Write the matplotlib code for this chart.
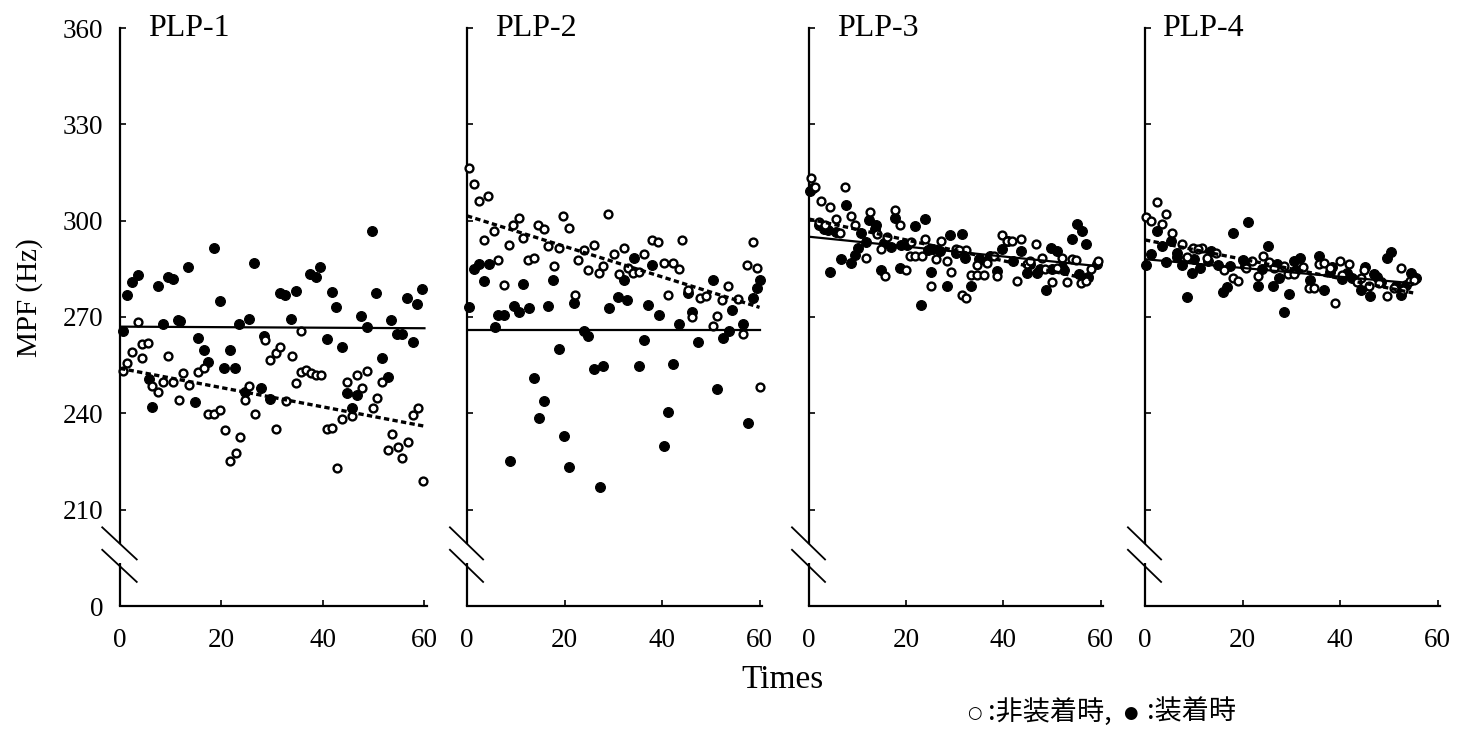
import matplotlib.pyplot as plt

plt.rcParams['font.family'] = ['Liberation Serif', 'DejaVu Serif']

titles = ['PLP-1', 'PLP-2', 'PLP-3', 'PLP-4']

# PLP-1  (off = open circles, on = filled circles)
p1_off_x = [0.5, 1.3, 2.4, 3.6, 4.4, 4.4, 5.5, 6.4, 7.5, 8.5, 9.4, 10.5, 11.7, 12.5, 13.5, 15.4, 16.6,
            17.4, 18.5, 19.7, 20.6, 21.7, 22.8, 23.6, 24.7, 25.4, 26.6, 28.5, 29.6, 30.8, 31.5, 30.8,
            32.7, 33.8, 34.6, 35.7, 35.7, 36.6, 37.6, 38.7, 39.6, 40.7, 41.8, 42.7, 43.7, 44.8, 45.7,
            46.7, 47.6, 48.7, 49.8, 50.6, 51.7, 52.9, 54.8, 55.6, 56.8, 53.6, 57.7, 58.7, 59.8]
p1_off_y = [253.3, 255.7, 259.2, 268.5, 257.2, 261.5, 261.9, 248.5, 246.5, 249.9, 258.0, 249.9, 244.2,
            252.7, 248.9, 253.0, 254.0, 239.9, 239.9, 240.9, 234.7, 225.2, 227.8, 232.6, 244.1, 248.4,
            239.9, 262.7, 256.7, 258.7, 260.7, 235.2, 243.8, 257.9, 249.4, 265.6, 252.9, 253.6, 252.7,
            251.9, 251.9, 235.2, 235.5, 223.0, 238.1, 249.9, 239.3, 251.9, 247.8, 253.3, 241.6, 244.7,
            249.9, 228.7, 229.6, 226.1, 231.2, 233.5, 239.5, 241.6, 218.8]
p1_on_x = [0.5, 1.3, 2.4, 3.5, 7.4, 9.4, 10.4, 8.5, 11.5, 11.9, 13.4, 5.7, 6.4, 14.7, 15.4, 16.6, 17.4,
           18.5, 19.7, 20.5, 21.6, 22.6, 23.5, 24.7, 25.4, 26.4, 27.7, 28.4, 29.5, 31.5, 32.5, 33.7,
           34.6, 37.4, 38.6, 39.4, 40.7, 41.8, 42.6, 43.7, 44.8, 45.7, 46.8, 47.5, 48.7, 49.6, 50.5,
           51.7, 52.9, 53.5, 54.6, 55.6, 56.6, 57.7, 58.5, 59.6]
p1_on_y = [265.6, 276.8, 280.8, 283.0, 279.6, 282.4, 281.7, 267.8, 269.0, 268.6, 285.5, 250.7, 242.0,
           243.5, 263.6, 259.7, 256.1, 291.5, 275.0, 254.0, 259.7, 254.1, 267.9, 246.5, 269.5, 286.8,
           247.9, 264.0, 244.5, 277.6, 276.8, 269.4, 278.0, 283.4, 282.5, 285.5, 263.2, 277.9, 273.0,
           260.6, 246.3, 241.6, 245.8, 270.3, 267.0, 296.8, 277.6, 257.1, 251.2, 269.0, 264.8, 264.8,
           276.0, 262.3, 273.9, 278.8]

# PLP-2
p2_off_x = [0.4, 1.4, 2.4, 4.3, 3.4, 5.6, 6.4, 7.6, 8.6, 9.5, 10.6, 11.5, 12.6, 13.7, 14.6, 15.7, 16.6,
            17.8, 18.9, 19.7, 20.9, 22.1, 22.8, 24.0, 24.9, 26.0, 27.0, 27.9, 29.0, 30.2, 31.2, 32.1,
            33.0, 34.1, 35.2, 36.2, 38.0, 39.1, 40.3, 41.2, 42.3, 43.5, 44.1, 45.4, 46.2, 47.7, 49.1,
            50.4, 51.3, 52.3, 53.6, 55.6, 56.7, 57.5, 58.6, 59.4, 60.0]
p2_off_y = [316.5, 311.3, 306.2, 307.6, 293.9, 296.8, 287.9, 279.9, 292.4, 298.6, 300.7, 294.7, 287.9,
            288.3, 298.6, 297.3, 292.2, 286.0, 291.4, 301.5, 297.6, 276.8, 287.6, 290.9, 284.5, 292.5,
            283.7, 286.0, 302.0, 289.6, 283.4, 291.4, 285.4, 283.8, 284.0, 289.6, 293.9, 293.5, 286.7,
            276.8, 286.7, 284.9, 293.9, 278.3, 270.1, 275.9, 276.4, 267.3, 270.3, 275.4, 279.6, 275.5,
            264.8, 286.3, 293.5, 285.3, 248.1]
p2_on_x = [0.5, 1.4, 2.4, 4.5, 3.4, 5.7, 6.4, 7.5, 9.6, 10.7, 11.5, 12.7, 13.8, 14.7, 15.8, 16.7, 17.7,
           18.9, 19.9, 21.0, 22.0, 24.0, 24.8, 26.0, 27.9, 27.2, 8.9, 29.1, 31.0, 32.1, 32.9, 34.2, 35.3,
           36.2, 37.2, 38.0, 39.3, 40.4, 41.3, 42.3, 43.4, 45.4, 46.2, 47.4, 50.4, 51.3, 52.5, 53.7,
           54.4, 56.7, 57.6, 58.6, 59.4, 60.0]
p2_on_y = [273.2, 284.8, 286.6, 286.6, 281.1, 266.8, 270.6, 270.6, 273.3, 271.5, 280.3, 272.9, 251.0,
           238.5, 243.7, 273.3, 281.6, 260.0, 233.0, 223.4, 274.4, 265.6, 264.0, 253.9, 254.7, 217.1,
           225.2, 272.9, 276.2, 281.6, 275.3, 288.3, 254.8, 262.7, 273.7, 286.3, 270.6, 229.7, 240.3,
           255.3, 267.9, 277.5, 271.6, 262.3, 281.6, 247.7, 263.6, 265.6, 272.2, 267.7, 236.9, 275.9,
           279.0, 281.6]

# PLP-3
p3_off_x = [0.4, 1.3, 2.4, 4.4, 7.5, 5.5, 6.3, 8.6, 12.5, 11.8, 14.8, 15.7, 17.6, 18.8, 19.9, 20.8, 21.9,
            23.2, 23.9, 25.2, 26.1, 27.2, 28.3, 29.2, 30.3, 31.5, 32.3, 32.4, 33.3, 34.6, 36.0, 34.6,
            36.7, 38.6, 39.7, 40.7, 41.7, 42.8, 43.6, 44.8, 46.7, 47.9, 50.0, 51.0, 52.0, 53.0, 54.1,
            55.0, 56.0, 58.0, 59.4, 57.0, 2.0, 3.2, 9.5, 14.0, 16.0, 21.0, 30.8, 38.0, 45.5, 48.5]
p3_off_y = [313.3, 310.6, 306.1, 304.3, 310.6, 300.5, 296.1, 301.3, 302.7, 288.3, 291.2, 282.7, 303.2,
            298.8, 284.5, 289.0, 288.9, 288.9, 294.3, 279.6, 288.1, 293.7, 287.3, 284.0, 291.2, 276.9,
            275.9, 291.0, 283.2, 283.2, 283.2, 286.2, 286.9, 282.9, 295.5, 293.7, 293.7, 281.2, 294.4,
            286.5, 292.8, 288.3, 280.8, 285.3, 288.5, 280.9, 288.1, 287.7, 280.7, 284.8, 287.5, 281.1,
            299.5, 298.8, 298.5, 296.0, 295.0, 293.5, 290.8, 289.0, 287.5, 285.0]
p3_on_x = [0.2, 0.8, 7.6, 4.4, 6.5, 8.6, 9.5, 10.6, 11.8, 12.4, 13.8, 13.5, 14.8, 16.8, 17.7, 18.8, 20.1,
           21.9, 23.1, 23.9, 25.2, 25.5, 28.3, 29.1, 31.4, 30.3, 33.4, 37.3, 38.6, 39.7, 41.0, 43.7,
           44.8, 46.9, 48.8, 49.9, 51.0, 52.4, 54.1, 55.1, 56.2, 57.1, 59.3, 50.0, 2.0, 3.0, 4.0, 5.5,
           10.0, 15.5, 19.0, 24.5, 27.0, 32.0, 35.0, 36.5, 42.0, 45.5, 47.5, 52.0, 55.5, 57.5]
p3_on_y = [309.1, 310.2, 304.8, 284.0, 288.1, 286.7, 289.3, 296.1, 293.5, 300.2, 298.6, 297.4, 284.5,
           291.7, 300.7, 285.4, 292.4, 298.3, 273.8, 300.5, 284.1, 291.2, 279.8, 295.4, 295.9, 290.0,
           279.8, 288.9, 284.2, 291.3, 293.7, 290.6, 283.7, 283.7, 278.4, 291.6, 290.6, 284.7, 294.2,
           298.9, 296.9, 292.6, 286.5, 285.0, 298.5, 297.5, 297.0, 296.5, 291.5, 293.0, 292.5, 291.0,
           290.5, 288.5, 288.0, 287.5, 287.5, 286.5, 285.0, 285.5, 283.5, 282.5]

# PLP-4
p4_off_x = [0.2, 1.2, 2.4, 3.5, 4.3, 5.5, 7.5, 8.6, 9.8, 11.7, 10.8, 12.7, 16.1, 18.1, 19.1, 20.7, 23.1,
            24.1, 26.4, 28.6, 29.4, 33.6, 34.6, 35.7, 36.8, 37.9, 39.0, 39.9, 41.9, 44.4, 49.6, 52.5,
            54.3, 14.5, 22.0, 25.5, 30.5, 32.5, 40.5, 43.5, 46.0, 48.0, 51.0, 53.0, 55.2, 45.0]
p4_off_y = [301.2, 300.0, 305.8, 299.0, 302.2, 296.3, 292.6, 288.7, 291.6, 291.6, 291.2, 288.3, 284.7,
            282.3, 281.1, 285.4, 282.9, 289.0, 285.4, 285.8, 283.4, 279.0, 279.0, 286.6, 286.7, 285.2,
            274.4, 287.3, 286.5, 282.3, 276.4, 285.2, 281.1, 290.0, 287.5, 287.0, 283.5, 285.5, 283.0,
            281.0, 279.5, 280.5, 279.0, 278.5, 281.5, 284.5]
p4_on_x = [0.3, 1.2, 2.4, 3.5, 4.3, 5.4, 6.6, 7.5, 8.7, 9.7, 11.2, 13.5, 15.0, 16.0, 16.8, 18.0, 20.0,
           21.1, 23.1, 25.3, 26.2, 27.5, 28.5, 29.5, 30.5, 31.7, 33.9, 35.6, 36.8, 38.4, 40.3, 41.4,
           45.1, 46.2, 47.5, 49.6, 50.5, 52.5, 54.6, 55.6, 44.4, 48.5, 51.5, 53.5, 47.0, 42.5, 38.0,
           31.0, 24.0, 20.5, 17.5, 13.0, 10.0, 6.5, 27.0]
p4_on_y = [286.2, 289.6, 296.9, 292.2, 287.1, 293.7, 288.6, 286.2, 276.1, 283.8, 285.4, 290.6, 286.2,
           277.7, 279.2, 296.3, 287.7, 299.6, 279.7, 292.1, 279.7, 282.1, 271.7, 277.3, 287.5, 288.3,
           281.6, 289.0, 278.5, 285.7, 281.9, 283.6, 285.7, 276.4, 282.6, 288.3, 290.1, 277.0, 283.7,
           282.1, 278.5, 281.0, 279.5, 280.0, 283.5, 282.0, 284.0, 284.5, 285.0, 286.0, 286.0, 287.5,
           288.0, 290.0, 286.5]

off_x = [p1_off_x, p2_off_x, p3_off_x, p4_off_x]
off_y = [p1_off_y, p2_off_y, p3_off_y, p4_off_y]
on_x = [p1_on_x, p2_on_x, p3_on_x, p4_on_x]
on_y = [p1_on_y, p2_on_y, p3_on_y, p4_on_y]

# regression lines: x range and y at both ends
fit_x = [[0, 60], [0, 60], [0, 58.5], [0, 55]]
fit_off = [[254, 236], [301.5, 273], [300.5, 281.5], [294, 277.5]]
fit_on = [[267, 266.5], [265.8, 265.8], [295, 286], [288, 280.5]]

# broken axis: the "0" sits where 180 would be
y_ticks = [180, 210, 240, 270, 300, 330, 360]
y_labels = ['0', '210', '240', '270', '300', '330', '360']
x_ticks = [0, 20, 40, 60]

W, H = 1463, 733
fig = plt.figure(figsize=(W / 100, H / 100), dpi=100)

lefts = [120, 467, 809, 1145]
widths = [307, 295, 294, 295]
top_px, bot_px = 28, 606

for i in range(4):
    ax = fig.add_axes([lefts[i] / W, 1 - bot_px / H, widths[i] / W, (bot_px - top_px) / H])
    ax.scatter(on_x[i], on_y[i], s=50, c='black', edgecolors='black', linewidths=0.8, zorder=3,
               clip_on=False)
    ax.scatter(off_x[i], off_y[i], s=32, facecolors='white', edgecolors='black', linewidths=1.7,
               zorder=3, clip_on=False)
    ax.plot(fit_x[i], fit_on[i], color='black', lw=1.6, zorder=4)
    ax.plot(fit_x[i], fit_off[i], color='black', lw=2.4, ls=(0, (1.6, 1.0)), zorder=4)

    ax.set_xlim(0, 60.5)
    ax.set_ylim(180, 360)
    ax.set_xticks(x_ticks)
    ax.set_yticks(y_ticks[1:])
    if i == 0:
        ax.set_yticks(y_ticks)
        ax.set_yticklabels(y_labels)
        ax.set_ylabel('MPF (Hz)', fontsize=21)
        ax.yaxis.set_label_coords(-0.25, 0.533)
    else:
        ax.set_yticklabels([])
    ax.tick_params(direction='in', length=4, width=1.2, labelsize=19.5)
    ax.tick_params(axis='x', pad=16)
    ax.tick_params(axis='y', pad=12)

    for s in ['top', 'right']:
        ax.spines[s].set_visible(False)
    for s in ['left', 'bottom']:
        ax.spines[s].set_linewidth(1.6)
    # gap in the left spine with the break marks
    ax.spines['left'].set_bounds(199.5, 360)
    ax.plot([0, 0], [180, 193.5], color='black', lw=1.6, clip_on=False, solid_capstyle='butt')
    ax.plot([-3.5, 3.3], [204.5, 194.5], color='black', lw=1.3, clip_on=False)
    ax.plot([-3.5, 3.3], [197.5, 187.5], color='black', lw=1.3, clip_on=False)

    ax.text(28 / widths[i] if i < 3 else 17 / widths[i], 1.0, titles[i], transform=ax.transAxes,
            fontsize=23, va='center', ha='left')

fig.text(783 / W, 1 - 680 / H, 'Times', fontsize=24, ha='center', va='center')

cjk = ['Noto Sans CJK JP', 'DejaVu Sans']
fig.text(974 / W, 1 - 713 / H, '○', fontsize=12, ha='center', va='center', family=['DejaVu Sans'])
fig.text(988 / W, 1 - 712 / H, ':非装着時,', fontsize=19.5, ha='left', va='center', family=cjk)
fig.text(1130 / W, 1 - 713 / H, '●', fontsize=12, ha='center', va='center', family=['DejaVu Sans'])
fig.text(1147 / W, 1 - 712 / H, ':装着時', fontsize=19.5, ha='left', va='center', family=cjk)

fig.savefig('out.png', dpi=100)
